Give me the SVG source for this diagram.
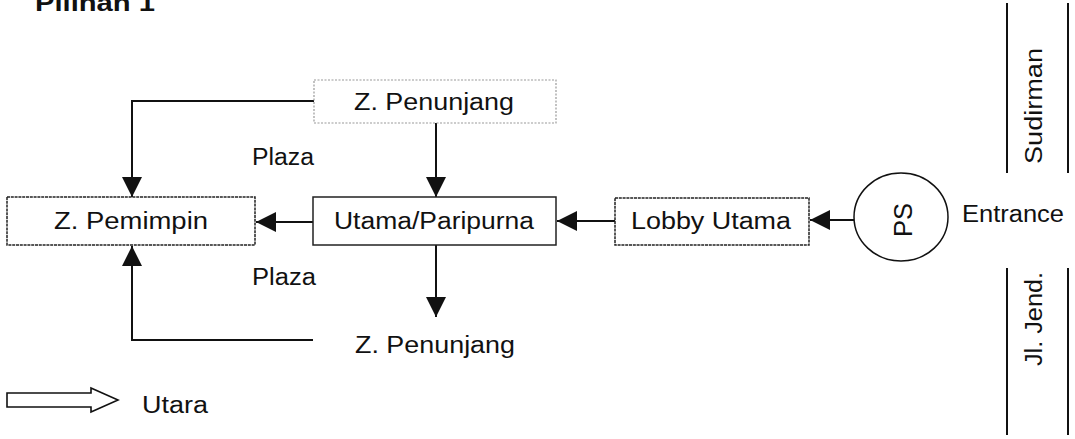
<svg xmlns="http://www.w3.org/2000/svg" width="1075" height="439" viewBox="0 0 1075 439">
<style>
text{font-family:"Liberation Sans",Arial,sans-serif;font-size:23px;fill:#111}
.box{fill:#fff;stroke:#222;stroke-width:1.5}
.dot{fill:#fff;stroke:#999;stroke-width:1.2;stroke-dasharray:2 1.5}
.ln{fill:none;stroke:#111;stroke-width:2}
.road{stroke:#111;stroke-width:2}
</style>
<defs>
<marker id="ah" viewBox="0 0 20 20" refX="20" refY="10" markerWidth="20" markerHeight="20" markerUnits="userSpaceOnUse" orient="auto">
<path d="M0,0 L20,10 L0,20 Z" fill="#111"/>
</marker>
</defs>
<text x="35" y="11" textLength="120" lengthAdjust="spacingAndGlyphs" style="font-size:24px;font-weight:bold">Pilihan 1</text>
<g id="connectors">
<path class="ln" d="M314,101 H132 V197" marker-end="url(#ah)"/>
<path class="ln" d="M436,123 V197" marker-end="url(#ah)"/>
<path class="ln" d="M313,222 H256" marker-end="url(#ah)"/>
<path class="ln" d="M615,221 H557" marker-end="url(#ah)"/>
<path class="ln" d="M854,220 H810" marker-end="url(#ah)"/>
<path class="ln" d="M436,245 V317" marker-end="url(#ah)"/>
<path class="ln" d="M313,340 H132 V246" marker-end="url(#ah)"/>
</g>
<g id="z-penunjang-top">
<rect class="dot" x="314" y="80" width="242" height="43"/>
<text x="434" y="110" text-anchor="middle" textLength="160" lengthAdjust="spacingAndGlyphs">Z. Penunjang</text>
</g>
<g id="z-pemimpin">
<rect class="box" x="7" y="197" width="248" height="48" stroke-dasharray="3 0.8"/>
<text x="131" y="229" text-anchor="middle" textLength="154" lengthAdjust="spacingAndGlyphs">Z. Pemimpin</text>
</g>
<g id="utama">
<rect class="box" x="313" y="197" width="243" height="48"/>
<text x="434" y="229" text-anchor="middle" textLength="200" lengthAdjust="spacingAndGlyphs">Utama/Paripurna</text>
</g>
<g id="lobby">
<rect class="box" x="615" y="198" width="194" height="47" stroke-dasharray="3 0.8"/>
<text x="711" y="229" text-anchor="middle" textLength="160" lengthAdjust="spacingAndGlyphs">Lobby Utama</text>
</g>
<g id="ps">
<ellipse cx="901" cy="217" rx="47" ry="44" fill="#fff" stroke="#111" stroke-width="1.5"/>
<text transform="translate(912,220) rotate(-90)" text-anchor="middle" textLength="34" lengthAdjust="spacingAndGlyphs" style="font-size:25px">PS</text>
</g>
<g id="z-penunjang-bottom">
<text x="435" y="353" text-anchor="middle" textLength="160" lengthAdjust="spacingAndGlyphs">Z. Penunjang</text>
</g>
<g id="labels">
<text x="252" y="165" textLength="62" lengthAdjust="spacingAndGlyphs">Plaza</text>
<text x="252" y="285" textLength="64" lengthAdjust="spacingAndGlyphs">Plaza</text>
<text x="962" y="222" textLength="102" lengthAdjust="spacingAndGlyphs">Entrance</text>
<text transform="translate(1042,164) rotate(-90)" textLength="116" lengthAdjust="spacingAndGlyphs">Sudirman</text>
<text transform="translate(1042,366) rotate(-90)" textLength="94" lengthAdjust="spacingAndGlyphs">Jl. Jend.</text>
<text x="142" y="413" textLength="66" lengthAdjust="spacingAndGlyphs">Utara</text>
</g>
<g id="roads">
<line class="road" x1="1007" y1="3" x2="1007" y2="173"/>
<line class="road" x1="1068" y1="3" x2="1068" y2="173"/>
<line class="road" x1="1007" y1="268" x2="1007" y2="435"/>
<line class="road" x1="1068" y1="268" x2="1068" y2="435"/>
</g>
<g id="north-arrow">
<path d="M7,393 H91 V388 L118,400 L91,412 V407 H7 Z" fill="#fff" stroke="#111" stroke-width="1.6"/>
</g>
</svg>
